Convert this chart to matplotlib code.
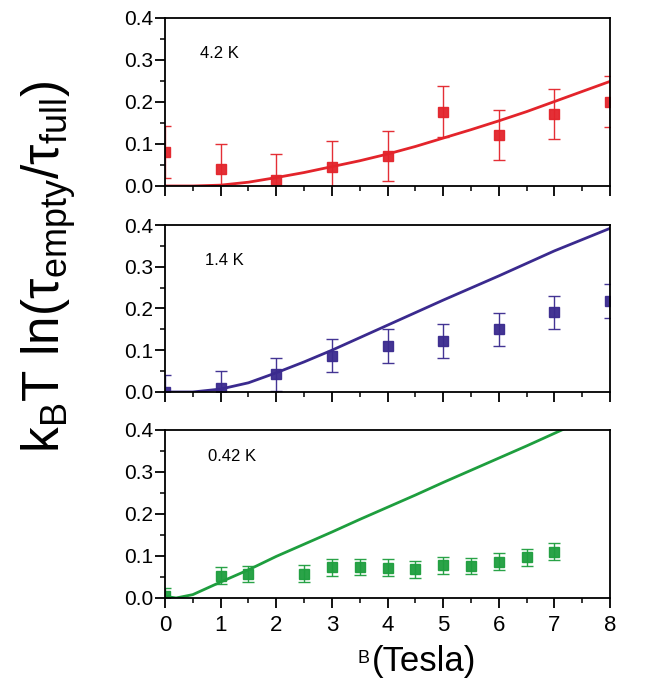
import matplotlib
matplotlib.use("Agg")
import matplotlib.pyplot as plt
from matplotlib.ticker import MultipleLocator

plt.rcParams['font.family'] = ['Liberation Sans', 'DejaVu Sans']

# 4.2 K panel
b_42 = [0, 1, 2, 3, 4, 5, 6, 7, 8]
v_42 = [0.080, 0.040, 0.015, 0.046, 0.072, 0.177, 0.122, 0.171, 0.201]
e_42 = [0.062, 0.060, 0.060, 0.062, 0.060, 0.060, 0.060, 0.060, 0.060]
fit_b_42 = [0, 0.5, 1, 1.5, 2, 2.5, 3, 3.5, 4, 4.5, 5, 5.5, 6, 6.5, 7, 7.5, 8]
fit_v_42 = [0.0, 0.0, 0.002, 0.009, 0.020, 0.032, 0.046, 0.060, 0.076, 0.094,
            0.114, 0.134, 0.155, 0.177, 0.201, 0.225, 0.249]

# 1.4 K panel
b_14 = [0, 1, 2, 3, 4, 5, 6, 7, 8]
v_14 = [0.0, 0.010, 0.042, 0.087, 0.110, 0.122, 0.150, 0.191, 0.218]
e_14 = [0.040, 0.040, 0.040, 0.040, 0.040, 0.040, 0.040, 0.040, 0.040]
fit_b_14 = [0, 0.5, 1, 1.5, 2, 2.5, 3, 3.5, 4, 4.5, 5, 5.5, 6, 6.5, 7, 7.5, 8]
fit_v_14 = [0.0, 0.0, 0.007, 0.022, 0.046, 0.072, 0.100, 0.130, 0.160, 0.190,
            0.220, 0.249, 0.278, 0.308, 0.338, 0.365, 0.392]

# 0.42 K panel
b_042 = [0, 1, 1.5, 2.5, 3, 3.5, 4, 4.5, 5, 5.5, 6, 6.5, 7]
v_042 = [0.005, 0.053, 0.057, 0.058, 0.073, 0.074, 0.072, 0.068, 0.078, 0.076,
         0.086, 0.097, 0.110]
e_042 = [0.018, 0.020, 0.020, 0.020, 0.020, 0.020, 0.020, 0.020, 0.020, 0.020,
         0.020, 0.020, 0.020]
fit_b_042 = [0, 0.2, 0.5, 1, 1.5, 2, 2.5, 3, 3.5, 4, 4.5, 5, 5.5, 6, 6.5, 7, 7.15]
fit_v_042 = [0.004, 0.0, 0.008, 0.038, 0.067, 0.099, 0.128, 0.157, 0.187, 0.216,
             0.245, 0.275, 0.304, 0.333, 0.362, 0.392, 0.401]

panels = [
    ("4.2 K", b_42, v_42, e_42, fit_b_42, fit_v_42, "#e3242b", (0.079, 0.786)),
    ("1.4 K", b_14, v_14, e_14, fit_b_14, fit_v_14, "#3a2a8e", (0.090, 0.787)),
    ("0.42 K", b_042, v_042, e_042, fit_b_042, fit_v_042, "#1e9e3e", (0.097, 0.845)),
]

fig = plt.figure(figsize=(6.46, 6.81), dpi=100)
boxes = [[0.2554, 0.7269, 0.6889, 0.2467],
         [0.2554, 0.4244, 0.6889, 0.2452],
         [0.2554, 0.1219, 0.6889, 0.2467]]

for i, (label, bx, vy, err, fx, fy, col, lpos) in enumerate(panels):
    ax = fig.add_axes(boxes[i])
    ax.plot(fx, fy, color=col, lw=2.0)
    ax.errorbar(bx, vy, yerr=err, fmt='s', color=col, ms=7, ecolor=col,
                elinewidth=1.0, capsize=4.5, capthick=1.0, alpha=0.95)
    ax.set_xlim(0, 8)
    ax.set_ylim(0, 0.4)
    ax.xaxis.set_major_locator(MultipleLocator(1))
    ax.xaxis.set_minor_locator(MultipleLocator(0.5))
    ax.yaxis.set_major_locator(MultipleLocator(0.1))
    ax.yaxis.set_minor_locator(MultipleLocator(0.05))
    ax.yaxis.set_major_formatter(plt.FormatStrFormatter('%.1f'))
    ax.tick_params(which='major', direction='out', length=7, width=1.3,
                   labelsize=15, pad=1.5, top=False, right=False)
    ax.tick_params(which='minor', direction='out', length=3.6, width=1.1,
                   top=False, right=False)
    for s in ax.spines.values():
        s.set_linewidth(1.3)
    if i < 2:
        ax.tick_params(labelbottom=False)
    else:
        ax.tick_params(axis='x', labelsize=16, pad=5)
    ax.text(lpos[0], lpos[1], label, transform=ax.transAxes, fontsize=12,
            ha='left', va='center')

fig.text(0.075, 0.609, r'k$_\mathregular{B}$T ln($\mathregular{\tau_{empty}/\tau_{full}}$)',
         rotation=90, ha='center', va='center', fontsize=37)
fig.text(0.554, 0.027, 'B', ha='left', va='baseline', fontsize=13)
fig.text(0.576, 0.014, '(Tesla)', ha='left', va='baseline', fontsize=25)

fig.savefig("out.png", dpi=100)
